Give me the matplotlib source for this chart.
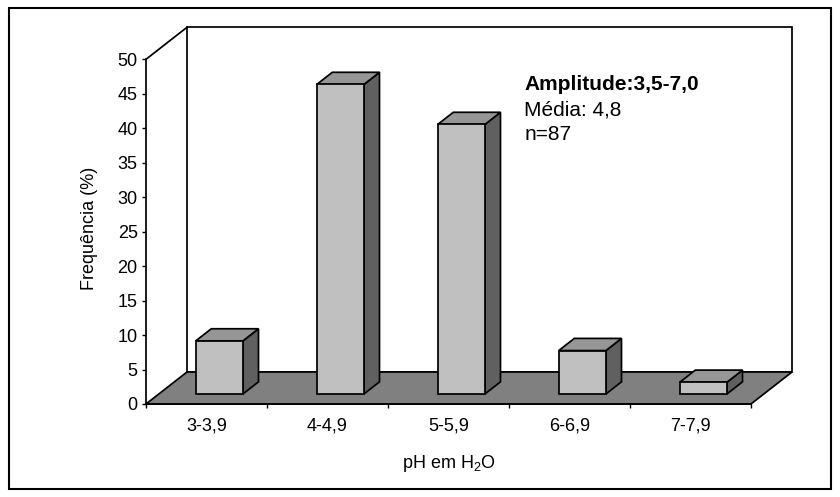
import matplotlib
matplotlib.use('Agg')
import matplotlib.pyplot as plt
from matplotlib.patches import Polygon, Rectangle
from matplotlib.lines import Line2D

# ---- data ----
categories = ['3-3,9', '4-4,9', '5-5,9', '6-6,9', '7-7,9']
frequencia = [7.7, 44.9, 39.1, 6.3, 1.7]
y_ticks = [0, 5, 10, 15, 20, 25, 30, 35, 40, 45, 50]
annotation_lines = ['Amplitude:3,5-7,0', 'Média: 4,8', 'n=87']

plt.rcParams['font.family'] = ['Liberation Sans', 'DejaVu Sans']
plt.rcParams['mathtext.fontset'] = 'custom'
plt.rcParams['mathtext.rm'] = 'Liberation Sans'

W, H = 840, 497
fig = plt.figure(figsize=(W / 100, H / 100), dpi=100)
ax_h = 344.7
ax = fig.add_axes([146 / W, (H - 404) / H, 605 / W, ax_h / H])
n = len(categories)
ymax = 50
ax.set_xlim(0, n)
ax.set_ylim(0, ymax)
ax.patch.set_visible(False)

LW = 1.25
# depth vector (oblique projection) in data units
DX = 41 / 121
DY = 32 / (ax_h / ymax)

# back wall
ax.add_patch(Polygon([(DX, DY), (DX, ymax + DY), (n + DX, ymax + DY), (n + DX, DY)],
                     closed=True, facecolor='white', edgecolor='black', lw=LW,
                     clip_on=False, zorder=0.5))
# side wall top edge
ax.add_line(Line2D([0, DX], [ymax, ymax + DY], color='black', lw=LW, clip_on=False, zorder=0.6))
# floor
ax.add_patch(Polygon([(0, 0), (n, 0), (n + DX, DY), (DX, DY)], closed=True,
                     facecolor='#808080', edgecolor='black', lw=LW,
                     clip_on=False, zorder=0.7))

# bars
bw = 0.39
f0 = 0.3125
bd = 0.38
for i, v in enumerate(frequencia):
    c = i + 0.5
    xl = c - bw / 2 + f0 * DX
    xr = xl + bw
    yb = f0 * DY
    yt = yb + v
    ddx, ddy = bd * DX, bd * DY
    ax.add_patch(Polygon([(xr, yb), (xr + ddx, yb + ddy), (xr + ddx, yt + ddy), (xr, yt)],
                         closed=True, facecolor='#606060', edgecolor='black', lw=LW,
                         clip_on=False, zorder=2))
    ax.add_patch(Polygon([(xl, yt), (xr, yt), (xr + ddx, yt + ddy), (xl + ddx, yt + ddy)],
                         closed=True, facecolor='#969696', edgecolor='black', lw=LW,
                         clip_on=False, zorder=2))
    ax.add_patch(Polygon([(xl, yb), (xr, yb), (xr, yt), (xl, yt)],
                         closed=True, facecolor='#C0C0C0', edgecolor='black', lw=LW,
                         clip_on=False, zorder=2.1))

# spines / ticks
for s in ['top', 'right']:
    ax.spines[s].set_visible(False)
for s in ['left', 'bottom']:
    ax.spines[s].set_linewidth(LW)
ax.set_yticks(y_ticks)
ax.set_yticklabels([str(t) for t in y_ticks])
ax.tick_params(axis='y', direction='out', length=3, width=1, pad=3, labelsize=13)
ax.set_xticks(range(n + 1))
ax.set_xticklabels([])
ax.set_xticks([i + 0.5 for i in range(n)], minor=True)
ax.set_xticklabels(categories, minor=True)
ax.tick_params(axis='x', which='major', direction='out', length=3, width=1)
ax.tick_params(axis='x', which='minor', length=0, pad=9.5, labelsize=13)

ax.set_ylabel('Frequência (%)', fontsize=13)
ax.yaxis.set_label_coords(-0.079, 0.51)
ax.set_xlabel('pH em H$_\\mathregular{2}$O', fontsize=13)
ax.xaxis.set_label_coords(0.5, -0.143)

# annotation
ys = [0.911, 0.838, 0.766]
for k, (txt, y) in enumerate(zip(annotation_lines, ys)):
    ax.text(0.625, y, txt, transform=ax.transAxes, ha='left', va='baseline',
            fontsize=15, fontweight='bold' if k == 0 else 'normal')

# outer chart border
fig.patches.append(Rectangle((9 / W, (H - 489) / H), (831 - 9) / W, (489 - 8) / H,
                             transform=fig.transFigure, fill=False,
                             edgecolor='black', lw=1.5))

fig.savefig('out.png', dpi=100)
